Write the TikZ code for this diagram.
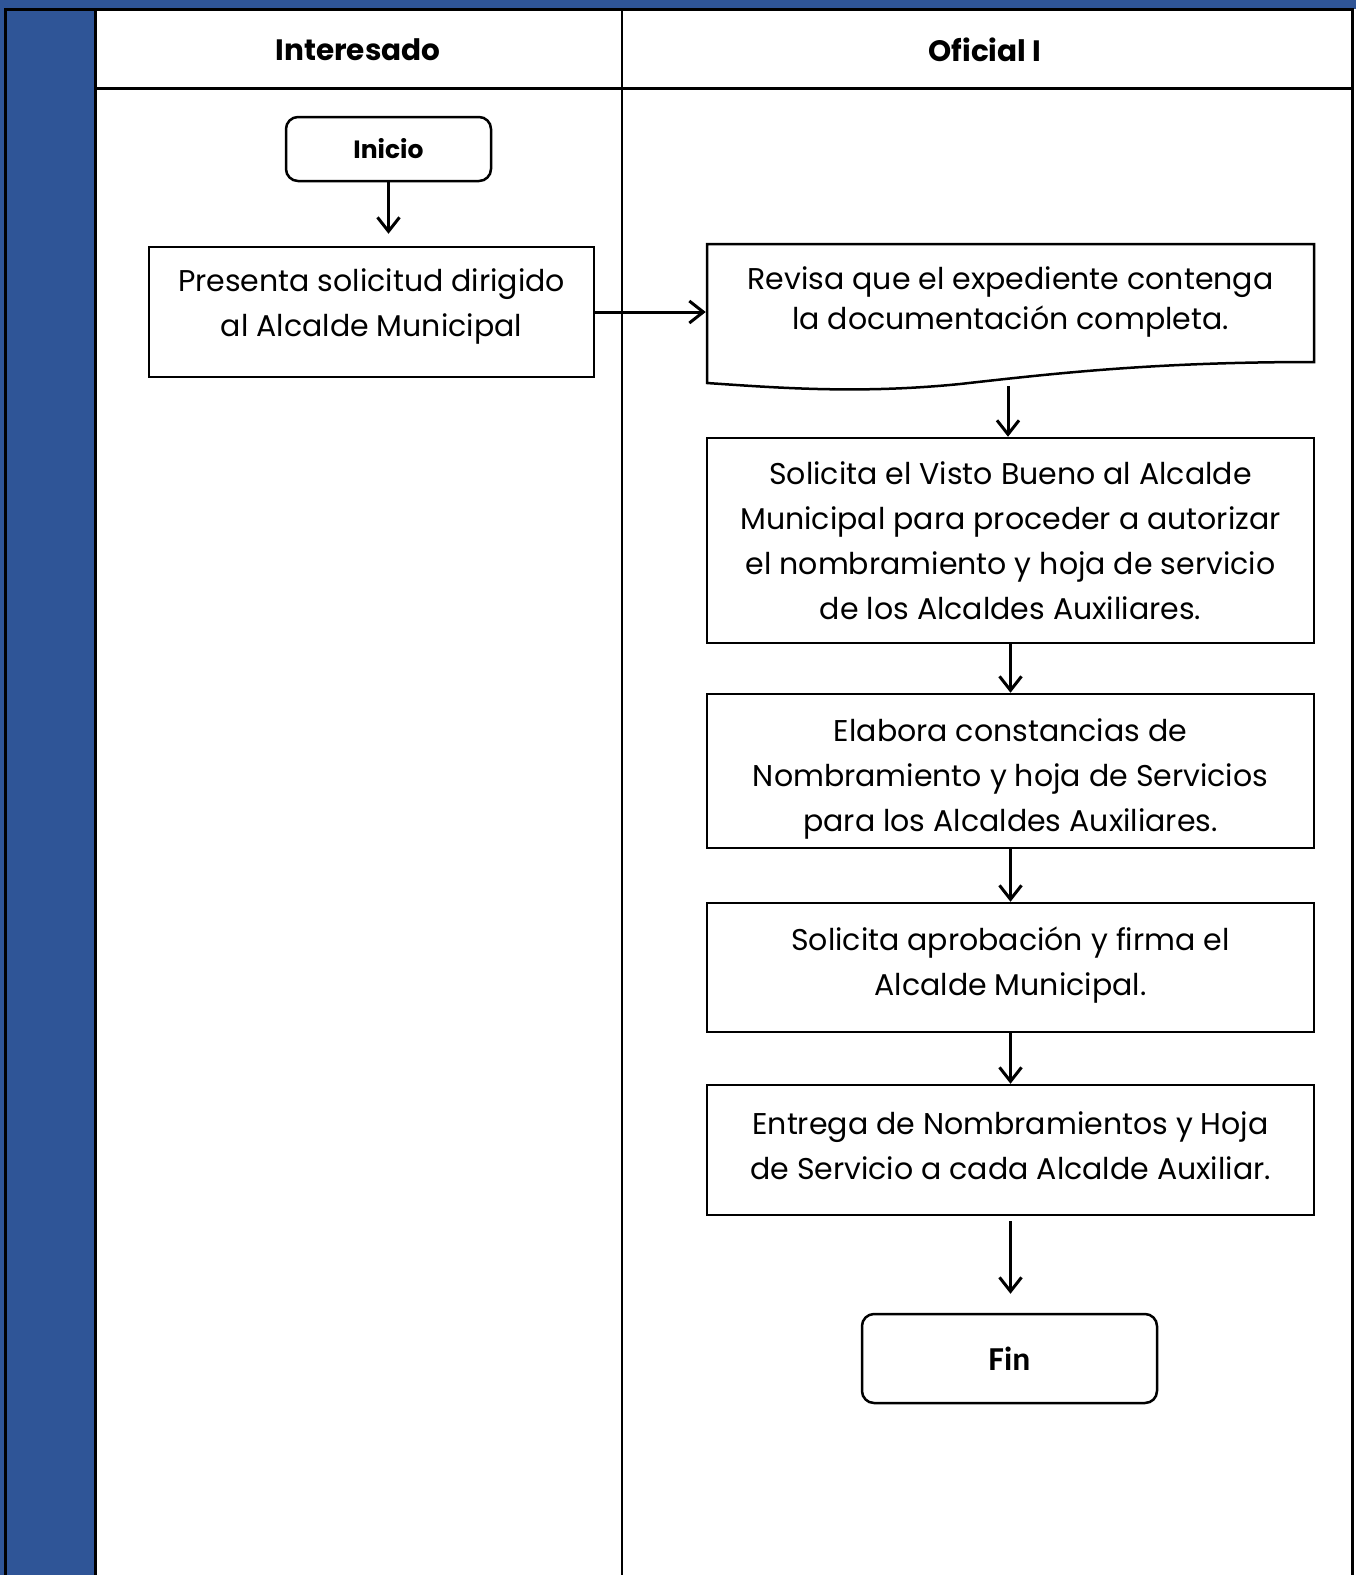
\documentclass[tikz,border=0pt]{standalone}
\usepackage{fontspec}
\setmainfont{Poppins}
\newfontfamily\finfont{Carlito}
\usetikzlibrary{arrows.meta}
\definecolor{azul}{RGB}{47,85,151}

\begin{document}
\begin{tikzpicture}[x=1pt,y=1pt,yscale=-1,xscale=1,
	caja/.style={draw,line width=2.5pt,minimum width=607pt,align=center,inner sep=0pt,font=\fontsize{30}{45}\selectfont},
	term/.style={draw,line width=2.5pt,rounded corners=12pt,align=center,inner sep=0pt},
	flecha/.style={line width=3pt,-{Straight Barb[length=14pt,width=22pt,line width=3pt]}}]
		\useasboundingbox (0,0) rectangle (1356,1575);

		% marco y carriles
		\fill [azul] (0,0) rectangle (1356,9);
		\fill [azul] (0,0) rectangle (95,1575);
		\draw [line width=3pt] (5,1575) -- (5,9) -- (1352,9) -- (1352,1575);
		\draw [line width=3pt] (95,9) -- (95,1575);
		\draw [line width=3pt] (95,88) -- (1352,88);
		\draw [line width=2pt] (622,9) -- (622,1575);

		\node [font=\fontsize{29.5}{36}\selectfont\bfseries] (interesado) at (358,50) {Interesado};
		\node [font=\fontsize{29.5}{36}\selectfont\bfseries] (oficial) at (985,50) {Oficial I};

		% Interesado
		\node [term,minimum width=205pt,minimum height=64pt,font=\fontsize{25}{30}\selectfont\bfseries] (inicio) at (388.5,149) {Inicio};
		\node [caja,minimum width=445pt,minimum height=130pt,text depth=18pt] (presenta) at (371.5,312) {Presenta solicitud dirigido\\al Alcalde Municipal};

		% Oficial I
		\node [caja,draw=none,minimum height=106pt,font=\fontsize{30}{40}\selectfont] (revisa) at (1010.5,302) {Revisa que el expediente contenga\\la documentación completa.};
		\draw [line width=2.5pt] (707,383) -- (707,244) -- (1314,244) -- (1314,362) .. controls (1150,362) and (1050,374) .. (960,384) .. controls (860,394) and (780,388) .. (707,383) -- cycle;
		\coordinate (revisa-s) at (1008,386);
		\node [caja,minimum height=205pt] (visto) at (1010.5,540.5) {Solicita el Visto Bueno al Alcalde\\Municipal para proceder a autorizar\\el nombramiento y hoja de servicio\\de los Alcaldes Auxiliares.};
		\node [caja,minimum height=154pt,text height=128pt] (elabora) at (1010.5,771) {Elabora constancias de\\Nombramiento y hoja de Servicios\\para los Alcaldes Auxiliares.};
		\node [caja,minimum height=129pt,text depth=12pt] (aprobacion) at (1010.5,967.5) {Solicita aprobación y firma el\\Alcalde Municipal.};
		\node [caja,minimum height=130pt,text depth=9pt] (entrega) at (1010.5,1150) {Entrega de Nombramientos y Hoja\\de Servicio a cada Alcalde Auxiliar.};
		\node [term,minimum width=295pt,minimum height=89pt,font=\finfont\fontsize{33.5}{36}\selectfont\bfseries] (fin) at (1009.5,1358.5) {Fin};

		% flechas
		\draw [flecha,shorten >=12pt] (inicio.south) -- (inicio.south |- presenta.north);
		\draw [flecha] (presenta.east) -- (presenta.east -| revisa.west);
		\draw [flecha] (revisa-s) -- (revisa-s |- visto.north);
		\draw [flecha] (visto.south) -- (elabora.north);
		\draw [flecha] (elabora.south) -- (aprobacion.north);
		\draw [flecha] (aprobacion.south) -- (entrega.north);
		\draw [flecha,shorten <=5pt,shorten >=19pt] (entrega.south) -- (entrega.south |- fin.north);
\end{tikzpicture}
\end{document}
